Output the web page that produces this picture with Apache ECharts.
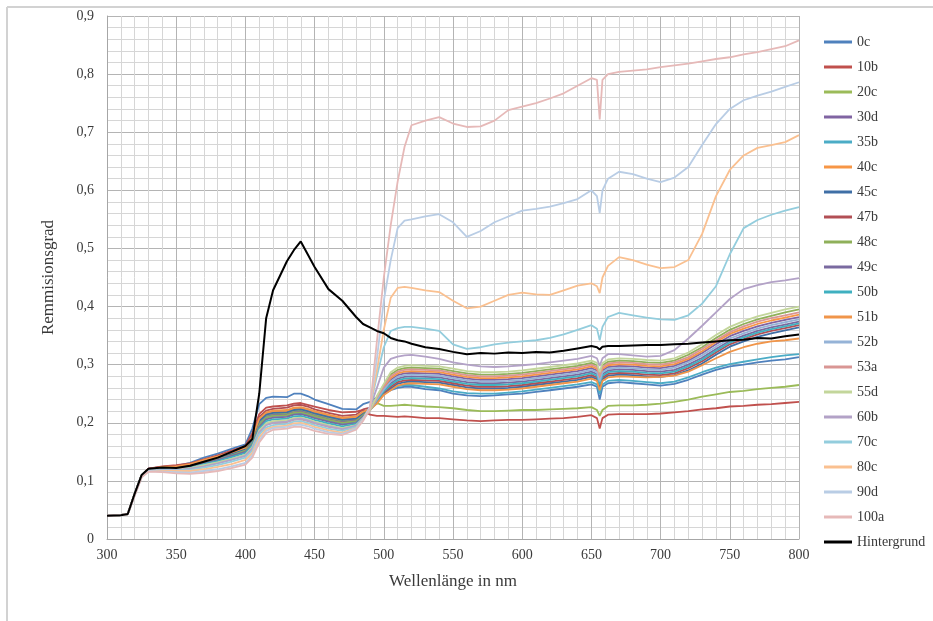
<!DOCTYPE html>
<html>
<head>
<meta charset="utf-8">
<script src="https://cdn.jsdelivr.net/npm/echarts@6/dist/echarts.min.js"></script>
<style>
html,body{margin:0;padding:0;background:#fff;}
#chart{width:933px;height:621px;}
</style>
</head>
<body>
<div id="chart"></div>
<script>
// Wavelengths (nm)
const wl = [300,310,315,320,325,330,340,350,360,370,380,390,400,405,410,415,420,430,435,440,445,450,460,470,480,485,490,495,500,505,510,515,520,530,540,550,560,570,580,590,600,610,620,630,640,650,654,656,658,662,670,680,690,700,710,720,730,740,750,760,770,780,790,800];

const s0c = [.040,.041,.043,.078,.110, .121,.124,.126,.131,.140,.147,.155,.163, .190,.232,.243,.245, .244,.250,.250,.246,.240, .232,.224,.223,.232,.236, .244,.250,.256,.260,.262,.262, .258,.256,.250,.247,.246,.247,.249,.250, .253,.256,.259,.262,.266, .262,.240,.262,.268, .270,.268,.266,.264, .267,.274,.283,.291,.297, .300,.304,.307,.309,.313];
const s10b = [.040,.041,.043,.077,.109, .121,.125,.127,.130,.137,.144,.152,.160, .182,.215,.226,.228, .230,.233,.234,.231,.228, .222,.218,.219,.222,.214, .212,.212,.211,.210,.211,.210, .208,.208,.206,.204,.203,.204,.205,.205, .206,.207,.208,.210,.213, .208,.190,.208,.214, .215,.215,.215,.216, .218,.220,.223,.225,.228, .229,.231,.232,.234,.236];
const s20c = [.040,.041,.043,.077,.109, .120,.123,.124,.127,.133,.139,.146,.153, .170,.200,.212,.215, .216,.220,.221,.218,.214, .208,.203,.206,.215,.222, .234,.229,.229,.230,.231,.230, .228,.227,.225,.222,.220,.220,.221,.222, .222,.223,.224,.225,.227, .222,.212,.222,.229, .230,.230,.231,.233, .236,.240,.245,.249,.253, .255,.258,.260,.262,.265];
const s30d = [.040,.041,.043,.077,.109, .120,.122,.123,.126,.132,.138,.145,.153, .167,.197,.210,.213, .214,.218,.219,.216,.212, .206,.201,.204,.214,.223, .241,.259,.274,.282,.285,.286, .285,.284,.280,.276,.274,.274,.275,.277, .280,.283,.286,.289,.294, .290,.274,.290,.296, .298,.297,.295,.294, .298,.307,.320,.335,.349, .358,.366,.372,.377,.382];
const s35b = [.040,.041,.043,.077,.109, .119,.121,.122,.125,.131,.137,.144,.152, .166,.196,.209,.212, .212,.216,.217,.214,.210, .204,.199,.202,.212,.225, .238,.250,.258,.263,.265,.265, .262,.259,.254,.251,.250,.250,.252,.254, .257,.260,.263,.266,.270, .266,.250,.266,.272, .274,.272,.270,.268, .271,.278,.287,.295,.301, .305,.309,.313,.316,.318];
const s40c = [.040,.041,.043,.077,.109, .120,.123,.125,.128,.135,.141,.148,.156, .173,.205,.216,.219, .220,.224,.225,.222,.218, .212,.207,.209,.218,.224, .242,.261,.277,.285,.288,.289, .288,.287,.283,.279,.277,.277,.278,.280, .283,.286,.289,.292,.297, .293,.277,.293,.299, .301,.300,.298,.297, .301,.310,.323,.339,.353, .362,.370,.376,.381,.386];
const s45c = [.040,.041,.043,.077,.109, .120,.123,.124,.127,.134,.140,.147,.155, .172,.203,.214,.217, .218,.222,.223,.220,.216, .210,.205,.207,.216,.224, .235,.250,.259,.267,.270,.271, .270,.269,.265,.261,.259,.259,.260,.262, .265,.268,.271,.274,.279, .275,.259,.275,.281, .283,.282,.280,.279, .282,.290,.302,.317,.331, .340,.348,.354,.359,.364];
const s47b = [.040,.041,.043,.077,.109, .121,.124,.126,.129,.136,.143,.150,.158, .178,.210,.221,.224, .226,.230,.231,.228,.223, .217,.212,.214,.223,.226, .236,.252,.262,.270,.273,.274, .273,.272,.268,.264,.262,.262,.263,.265, .268,.271,.274,.277,.282, .278,.262,.278,.284, .286,.285,.283,.282, .285,.294,.306,.321,.335, .344,.352,.358,.363,.368];
const s48c = [.040,.041,.043,.077,.109, .119,.121,.122,.125,.131,.137,.144,.152, .165,.196,.209,.212, .213,.217,.218,.215,.211, .205,.200,.203,.213,.223, .244,.265,.283,.291,.294,.295, .294,.293,.289,.285,.283,.283,.284,.286, .289,.292,.295,.298,.303, .299,.283,.299,.305, .307,.306,.304,.303, .307,.317,.330,.346,.360, .370,.378,.384,.390,.395];
const s49c = [.040,.041,.043,.077,.109, .119,.121,.122,.124,.130,.136,.143,.150, .163,.193,.206,.209, .210,.214,.215,.212,.208, .202,.197,.200,.211,.222, .238,.256,.268,.276,.279,.280, .279,.278,.274,.270,.268,.268,.269,.271, .274,.277,.280,.283,.288, .284,.268,.284,.290, .292,.291,.289,.288, .291,.300,.312,.327,.341, .350,.358,.364,.369,.374];
const s50b = [.040,.041,.043,.077,.109, .119,.120,.121,.123,.129,.134,.141,.148, .161,.190,.203,.206, .207,.211,.212,.209,.205, .199,.194,.198,.209,.222, .237,.254,.265,.273,.276,.277, .276,.275,.271,.267,.265,.265,.266,.268, .271,.274,.277,.280,.285, .281,.265,.281,.287, .289,.288,.286,.285, .288,.297,.309,.324,.338, .347,.355,.361,.366,.371];
const s51b = [.040,.041,.043,.077,.109, .120,.124,.125,.129,.136,.142,.149,.157, .175,.207,.218,.221, .222,.226,.227,.224,.220, .214,.209,.211,.219,.223, .233,.248,.256,.264,.267,.268, .267,.266,.262,.258,.256,.256,.257,.259, .262,.265,.268,.271,.276, .272,.256,.272,.278, .280,.279,.278,.279, .281,.288,.299,.311,.322, .330,.336,.340,.342,.345];
const s52b = [.040,.041,.043,.077,.109, .118,.119,.120,.122,.127,.132,.138,.145, .157,.186,.199,.202, .203,.207,.208,.205,.201, .195,.190,.195,.207,.221, .240,.257,.271,.279,.282,.283, .282,.281,.277,.273,.271,.271,.272,.274, .277,.280,.283,.286,.291, .287,.271,.287,.293, .295,.294,.292,.291, .295,.304,.316,.331,.345, .354,.362,.368,.373,.378];
const s53a = [.040,.041,.043,.077,.109, .118,.118,.119,.121,.126,.131,.137,.144, .155,.184,.197,.200, .201,.205,.206,.203,.199, .193,.189,.194,.207,.221, .243,.263,.280,.288,.291,.292, .291,.290,.286,.282,.280,.280,.281,.283, .286,.289,.292,.295,.300, .296,.280,.296,.302, .304,.303,.301,.300, .304,.313,.327,.342,.356, .366,.374,.380,.385,.390];
const s55d = [.040,.041,.043,.077,.109, .118,.119,.120,.122,.127,.132,.138,.145, .158,.187,.199,.203, .204,.208,.209,.206,.202, .196,.191,.196,.208,.222, .246,.267,.287,.295,.298,.299, .298,.297,.293,.289,.287,.287,.288,.290, .293,.296,.299,.302,.307, .303,.287,.303,.309, .311,.310,.308,.307, .311,.321,.335,.351,.365, .375,.383,.389,.395,.400];
const s60b = [.040,.041,.043,.076,.108, .118,.119,.119,.121,.125,.130,.136,.143, .156,.184,.196,.200, .202,.206,.207,.204,.200, .194,.189,.195,.208,.226, .260,.295,.310,.314,.316,.317, .314,.310,.304,.300,.297,.296,.297,.299, .301,.304,.307,.310,.315, .311,.298,.311,.318, .318,.316,.314,.315, .325,.345,.367,.390,.413, .430,.437,.442,.445,.449];
const s70c = [.040,.041,.043,.076,.108, .118,.118,.118,.119,.123,.127,.133,.140, .152,.180,.192,.196, .198,.202,.203,.200,.196, .190,.186,.193,.207,.226, .280,.330,.358,.363,.365,.365, .362,.358,.335,.327,.330,.335,.338,.340, .342,.346,.352,.360,.368, .362,.342,.365,.382, .389,.385,.381,.378, .377,.385,.405,.435,.490, .535,.549,.558,.565,.571];
const s80c = [.040,.041,.043,.076,.107, .117,.117,.117,.117,.120,.124,.129,.136, .148,.175,.189,.193, .195,.199,.200,.197,.193, .187,.183,.191,.206,.226, .290,.360,.415,.432,.434,.432, .428,.425,.410,.397,.400,.410,.420,.424, .421,.420,.428,.436,.440, .435,.423,.450,.470, .485,.480,.472,.466, .468,.480,.525,.590,.635, .660,.673,.678,.683,.695];
const s90d = [.040,.041,.043,.075,.106, .117,.116,.115,.114,.117,.120,.125,.131, .144,.170,.186,.191, .193,.196,.197,.194,.190, .184,.181,.190,.205,.228, .310,.410,.480,.535,.548,.550, .555,.559,.545,.520,.530,.545,.555,.565, .568,.572,.578,.585,.600, .590,.561,.600,.620, .632,.628,.620,.614, .622,.640,.678,.714,.740, .755,.763,.770,.778,.786];
const s100a = [.040,.041,.043,.075,.106, .116,.115,.113,.112,.114,.117,.122,.128, .140,.166,.182,.188, .190,.193,.193,.190,.186, .181,.179,.188,.203,.225, .340,.450,.540,.615,.675,.712, .720,.726,.715,.709,.710,.720,.738,.744, .750,.758,.767,.780,.793, .790,.722,.790,.800, .804,.806,.808,.812, .815,.818,.822,.826,.829, .834,.838,.843,.848,.858];
const sHintergrund = [.040,.041,.043,.078,.110, .121,.123,.122,.126,.133,.140,.150,.160, .172,.250,.380,.428, .478,.497,.512,.490,.468, .430,.410,.382,.370,.364, .358,.354,.346,.342,.340,.336, .330,.327,.322,.318,.320,.319,.321,.320, .322,.321,.324,.328,.332, .330,.326,.331,.332, .332,.333,.334,.334, .335,.336,.338,.340,.342, .343,.346,.345,.349,.352];

const seriesNames = ['0c','10b','20c','30d','35b','40c','45c','47b','48c','49c','50b','51b','52b','53a','55d','60b','70c','80c','90d','100a','Hintergrund'];
const seriesValues = [s0c,s10b,s20c,s30d,s35b,s40c,s45c,s47b,s48c,s49c,s50b,s51b,s52b,s53a,s55d,s60b,s70c,s80c,s90d,s100a,sHintergrund];
const seriesColors = ['#4F81BD','#C0504D','#9BBB59','#8064A2','#4BACC6','#F79646','#3F6FA6','#B24F55','#8FB05A','#7A6AA0','#3FB0C0','#F0954A','#95B3D7','#D99694','#C3D69B','#B3A2C7','#93CDDD','#FAC090','#B9CDE5','#E6B9B8','#000000'];

const yTicks = [0,0.1,0.2,0.3,0.4,0.5,0.6,0.7,0.8,0.9];
const xTicks = [300,350,400,450,500,550,600,650,700,750,800];

const FONT = '"Liberation Serif","Times New Roman",serif';
const chart = echarts.init(document.getElementById('chart'), null, {renderer:'canvas'});

const option = {
  backgroundColor: '#ffffff',
  animation: false,
  graphic: [
    {type:'line', shape:{x1:7,y1:7,x2:933,y2:7}, style:{stroke:'#d2d2d2', lineWidth:2}, silent:true},
    {type:'line', shape:{x1:7,y1:7,x2:7,y2:621}, style:{stroke:'#d2d2d2', lineWidth:2}, silent:true}
  ],
  grid: {left:107, right:134, top:16, bottom:82, containLabel:false},
  legend: {
    orient:'vertical', left:819, top:30,
    icon:'rect', itemWidth:28, itemHeight:3, itemGap:11,
    textStyle:{fontFamily:FONT, fontSize:14, lineHeight:14, color:'#3a3a3a'},
    data: seriesNames
  },
  xAxis: {
    type:'value', min:xTicks[0], max:xTicks[xTicks.length-1], interval:50,
    name:'Wellenlänge in nm', nameLocation:'middle', nameGap:34,
    nameTextStyle:{fontFamily:FONT, fontSize:17, color:'#3a3a3a'},
    axisLine:{show:true, lineStyle:{color:'#a6a6a6', width:1}},
    axisTick:{show:false},
    axisLabel:{fontFamily:FONT, fontSize:14, color:'#3a3a3a', margin:9},
    splitLine:{show:true, lineStyle:{color:'#b4b4b4', width:1}},
    minorTick:{show:false, splitNumber:5},
    minorSplitLine:{show:true, lineStyle:{color:'#d6d6d6', width:1}}
  },
  yAxis: {
    type:'value', min:yTicks[0], max:yTicks[yTicks.length-1], interval:0.1,
    name:'Remmisionsgrad', nameLocation:'middle', nameGap:50, nameRotate:90,
    nameTextStyle:{fontFamily:FONT, fontSize:17, color:'#3a3a3a'},
    axisLine:{show:true, lineStyle:{color:'#a6a6a6', width:1}},
    axisTick:{show:false},
    axisLabel:{fontFamily:FONT, fontSize:14, color:'#3a3a3a', margin:13,
      formatter: v => (Math.round(v*10)/10).toString().replace('.', ',')},
    splitLine:{show:true, lineStyle:{color:'#b4b4b4', width:1}},
    minorTick:{show:false, splitNumber:5},
    minorSplitLine:{show:true, lineStyle:{color:'#d6d6d6', width:1}}
  },
  series: seriesNames.map((n, i) => ({
    name: n,
    type: 'line',
    data: wl.map((w, j) => [w, seriesValues[i][j]]),
    showSymbol: false,
    symbol: 'none',
    lineStyle: {width: n === 'Hintergrund' ? 2 : 1.8, color: seriesColors[i]},
    itemStyle: {color: seriesColors[i]},
    emphasis: {disabled: true}
  }))
};
chart.setOption(option);
</script>
</body>
</html>
